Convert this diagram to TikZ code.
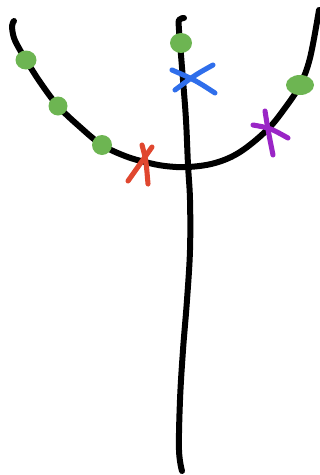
\documentclass[tikz,border=0pt]{standalone}
\begin{document}
\begin{tikzpicture}[x=0.75pt,y=-0.75pt,
  stem/.style={line width=4.5pt,line cap=round,line join=round,black},
  cross/.style={line width=3.8pt,line cap=round},
  blob/.style={fill=blobgreen,draw=none}]
\definecolor{blobgreen}{HTML}{6DB552}
\definecolor{xred}{HTML}{E0472F}
\definecolor{xblue}{HTML}{2F6EEB}
\definecolor{xpurple}{HTML}{9A25C6}
\useasboundingbox (0,0) rectangle (320,475);
% curved branch
\draw[stem] plot[smooth,tension=0.6] coordinates {(14,21) (12,26) (14,38) (20,50) (26,60) (40,82) (58,106) (80,127) (102,145) (125,156) (145,162) (165,166) (188,167) (215,163) (240,152) (267,130) (285,108) (300,85) (310,58) (319,10)};
% vertical stem
\draw[stem] plot[smooth,tension=0.6] coordinates {(184,18) (179,20) (179,30) (180,43) (183,80) (186,120) (188,165) (190,200) (190,250) (187,300) (183,350) (180,400) (179,450) (182,471)};
% green blobs
\fill[blob] (26,60) ellipse (10.5 and 9.5);
\fill[blob] (58,106) ellipse (9.5 and 9.5);
\fill[blob] (102,145) ellipse (10 and 10);
\fill[blob] (181,43) ellipse (11 and 10);
\fill[blob] (300,85) ellipse (14 and 10);
% red cross
\draw[cross,xred] (152,147) -- (128,181);
\draw[cross,xred] (142,145) .. controls (146,160) .. (148,184);
% blue cross
\draw[cross,xblue] (172,70) .. controls (195,80) .. (215,93);
\draw[cross,xblue] (175,90) .. controls (195,75) .. (213,65);
% purple cross
\draw[cross,xpurple] (265,111) .. controls (268,130) .. (273,155);
\draw[cross,xpurple] (253,125) .. controls (270,128) .. (288,138);
\end{tikzpicture}
\end{document}
